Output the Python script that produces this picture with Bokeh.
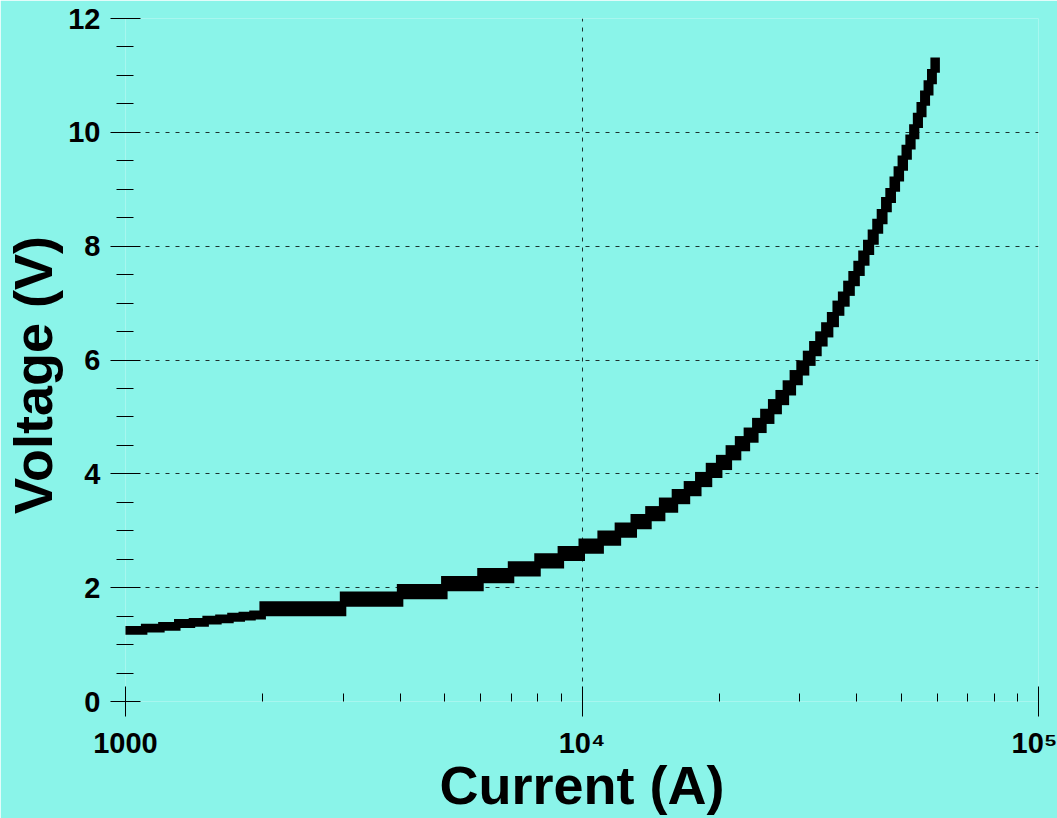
from bokeh.plotting import figure
from bokeh.models import FixedTicker, Range1d
from bokeh.embed import file_html
from bokeh.resources import INLINE
import numpy as np

# ---- data ----
current_a = [1000, 1100, 1200, 1300, 1400, 1500, 1600, 1700, 1800, 1900,
             2000, 3000, 4000, 5000, 6000, 7000, 8000, 9000, 10000,
             11000, 12000, 13000, 14000, 15000, 16000, 17000, 18000, 19000, 20000,
             21000, 22000, 23000, 24000, 25000, 26000, 27000, 28000, 29000, 30000,
             31000, 32000, 33000, 34000, 35000, 36000, 37000, 38000, 39000, 40000,
             41000, 42000, 43000, 44000, 45000, 46000, 47000, 48000, 49000, 50000,
             51000, 52000, 53000, 54000, 55000, 56000, 57000, 58000, 59000]
voltage_v = [1.25, 1.29, 1.32, 1.37, 1.39, 1.43, 1.45, 1.48, 1.50, 1.52,
             1.63, 1.80, 1.93, 2.07, 2.21, 2.33, 2.47, 2.60, 2.73,
             2.87, 3.01, 3.16, 3.30, 3.45, 3.60, 3.74, 3.90, 4.06, 4.20,
             4.37, 4.53, 4.68, 4.85, 5.01, 5.18, 5.34, 5.51, 5.69, 5.86,
             6.03, 6.20, 6.37, 6.53, 6.71, 6.91, 7.07, 7.26, 7.43, 7.61,
             7.79, 7.98, 8.16, 8.35, 8.52, 8.73, 8.89, 9.09, 9.27, 9.46,
             9.65, 9.83, 10.01, 10.21, 10.40, 10.60, 10.78, 10.98, 11.18]

x_major = [1000, 10000, 100000]
x_minor = [2000, 3000, 4000, 5000, 6000, 7000, 8000, 9000,
           20000, 30000, 40000, 50000, 60000, 70000, 80000, 90000]
x_labels = {1000: "1000", 10000: "10\u2074", 100000: "10\u2075"}
y_major = [0, 2, 4, 6, 8, 10, 12]
y_minor = [v / 2 for v in range(0, 25) if v % 4 != 0]
x_title = "Current (A)"
y_title = "Voltage (V)\u00a0\u00a0"

# ---- style ----
BG = "#8AF4E9"
FONT = "Liberation Sans"
W, H = 1057, 818
BL, BR, BT, BB = 125, 19, 18, 117
FW, FH = W - BL - BR, H - BT - BB

p = figure(width=W, height=H, x_axis_type="log",
           x_range=Range1d(1000, 100000), y_range=Range1d(0, 12),
           output_backend="svg", toolbar_location=None,
           min_border_left=BL, min_border_right=BR,
           min_border_top=BT, min_border_bottom=BB,
           background_fill_color=BG, border_fill_color=BG,
           outline_line_color=None)

# step-like thick curve, drawn as blocks from each point to the next
I = np.array(current_a, dtype=float)
V = np.array(voltage_v, dtype=float)
ppd = FW / 2.0          # pixels per decade
ppv = FH / 12.0         # pixels per volt
nxt = np.append(I[1:], I[-1] * 10 ** (3.0 / ppd))
left = I / 10 ** (3.5 / ppd)
right = nxt * 10 ** (3.0 / ppd)
half = np.where(I < 2000, 4.4, 7.6) / ppv
p.quad(left=left, right=right, bottom=V - half, top=V + half,
       fill_color="black", line_color=None)

# axes
xt = FixedTicker(ticks=x_major, minor_ticks=x_minor)
yt = FixedTicker(ticks=y_major, minor_ticks=y_minor)
p.xaxis.ticker = xt
p.yaxis.ticker = yt
p.xgrid.ticker = xt
p.ygrid.ticker = yt
p.xaxis.major_label_overrides = x_labels

for ax in (p.xaxis[0], p.yaxis[0]):
    ax.axis_line_color = None
    ax.major_tick_in = 15
    ax.major_tick_out = 15
    ax.major_tick_line_color = "black"
    ax.minor_tick_line_color = "black"
    ax.major_label_text_font = FONT
    ax.major_label_text_font_style = "bold"
    ax.major_label_text_font_size = "29px"
    ax.major_label_text_color = "black"
    ax.major_label_standoff = 10
    ax.axis_label_text_font = FONT
    ax.axis_label_text_font_style = "bold"
    ax.axis_label_text_font_size = "54px"
    ax.axis_label_text_color = "black"

p.xaxis.minor_tick_in = 8
p.xaxis.minor_tick_out = 0
p.yaxis.minor_tick_in = 8
p.yaxis.minor_tick_out = 9
p.xaxis.axis_label = x_title
p.yaxis.axis_label = y_title
p.xaxis.axis_label_standoff = -7
p.yaxis.axis_label_standoff = 2

for g in (p.xgrid[0], p.ygrid[0]):
    g.grid_line_color = "black"
    g.grid_line_alpha = 0.8
    g.grid_line_dash = "4 6"
    g.grid_line_width = 1

open("out.html", "w").write(file_html(p, INLINE))
